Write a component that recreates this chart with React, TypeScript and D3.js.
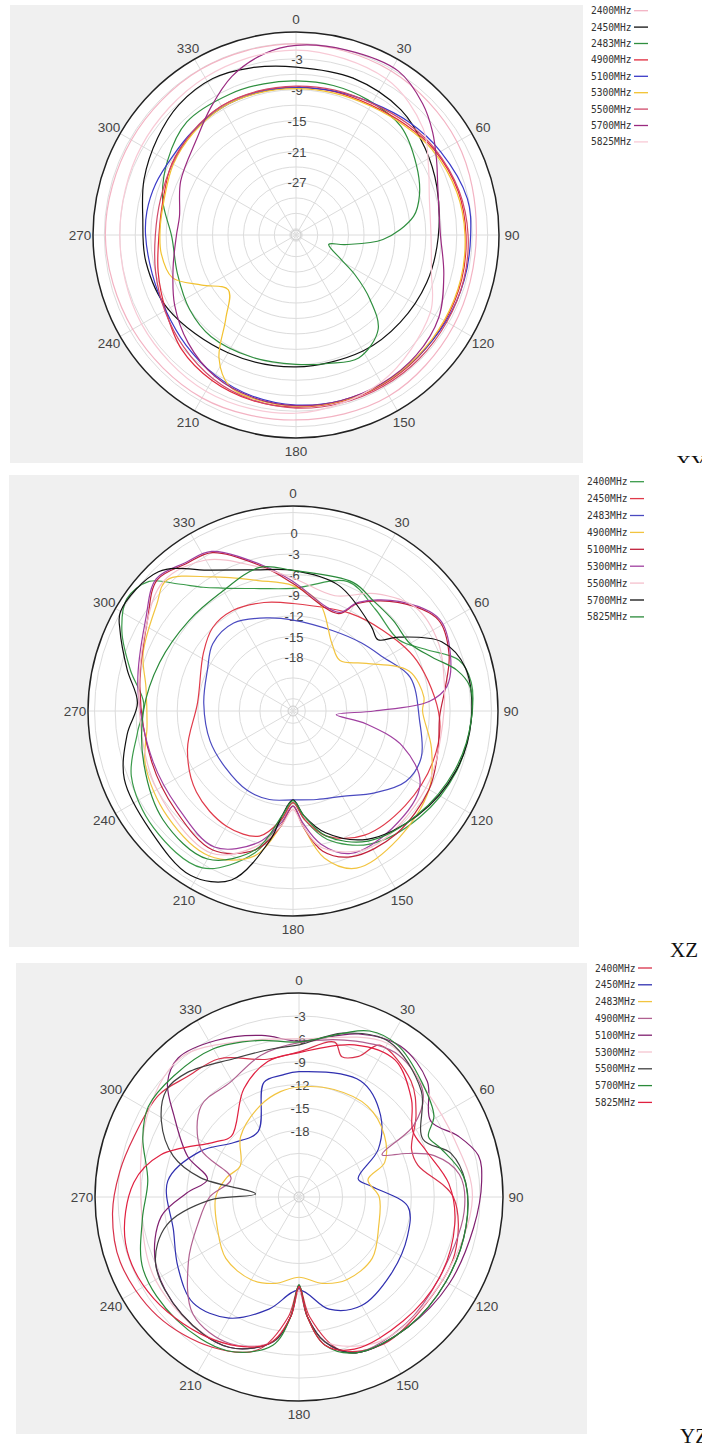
import React from 'react';
import * as d3 from 'd3';

type Pt = [number, number]; // [angle deg, gain dB]

const FREQS = ['2400MHz', '2450MHz', '2483MHz', '4900MHz', '5100MHz', '5300MHz', '5500MHz', '5700MHz', '5825MHz'];
const ANGLE_TICKS = [0, 30, 60, 90, 120, 150, 180, 210, 240, 270, 300, 330];
const XY_TICKS = [-3, -9, -15, -21, -27];
const XZ_TICKS = [0, -3, -6, -9, -12, -15, -18];
const YZ_TICKS = [-3, -6, -9, -12, -15, -18];

// ---------- XY plane ----------
const xy2400: Pt[] = [[0,-0.1],[30,-0.4],[60,-1.1],[90,-2.2],[120,-1.9],[150,-1.1],[180,-1.3],[210,-0.7],[240,-0.6],[270,-0.2],[300,-0.3],[330,-0.1]];
const xy2450: Pt[] = [[0,-4.6],[20,-4.8],[40,-5.5],[56,-7.0],[71,-8.3],[91,-9.6],[110,-10.2],[130,-10.8],[150,-11.2],[180,-11.6],[210,-10.8],[240,-8.5],[260,-7.6],[276,-7.3],[290,-5.8],[305,-4.4],[318,-3.2],[332,-2.8],[345,-3.6]];
const xy2483: Pt[] = [[0,-7.3],[14,-7.3],[28,-7.5],[44,-7.9],[60,-10.2],[72,-12],[81,-14.1],[93,-20.3],[101,-27.5],[106,-30.6],[118,-27.5],[124,-23.4],[131,-18.2],[139,-12.9],[153,-10.4],[166,-11.5],[180,-12.1],[200,-12],[220,-11.5],[235,-12],[252,-13],[269,-13.1],[285,-10.4],[300,-8.4],[316,-6.7],[335,-7],[348,-7.2]];
const xy4900: Pt[] = [[0,-8.5],[15,-8.4],[30,-8.1],[45,-7.0],[58,-5.7],[75,-4.6],[90,-4.2],[105,-3.9],[120,-3.8],[135,-3.7],[150,-3.6],[165,-3.7],[180,-3.8],[195,-4.0],[210,-4.6],[225,-5.8],[240,-8],[255,-9.5],[270,-10.6],[285,-10.5],[300,-9.4],[315,-8.9],[330,-8.3],[345,-8.4]];
const xy5100: Pt[] = [[0,-8.6],[15,-8.3],[30,-7.6],[45,-6.2],[60,-4.8],[78,-3.2],[90,-3.3],[105,-3.4],[120,-3.6],[135,-3.8],[150,-3.8],[165,-3.9],[180,-4.2],[195,-4.8],[210,-5.8],[225,-7.0],[240,-8.0],[255,-8.3],[270,-8.0],[279,-7.9],[290,-8.2],[303,-8.8],[315,-8.8],[330,-8.6],[345,-8.6]];
const xy5300: Pt[] = [[0,-8.8],[15,-8.7],[30,-8.3],[45,-7.3],[58,-6.0],[75,-4.9],[90,-4.4],[105,-4.1],[120,-4.0],[135,-3.9],[150,-3.8],[165,-3.8],[180,-4.0],[195,-4.4],[204,-5.2],[212,-9],[220,-16],[231,-20.3],[242,-16.5],[251,-11.8],[262,-10.8],[272,-10.8],[285,-10.7],[300,-9.7],[315,-9.1],[330,-8.6],[345,-8.7]];
const xy5500: Pt[] = [[0,-8.3],[15,-8.1],[30,-7.7],[45,-6.6],[58,-5.5],[75,-4.4],[90,-3.8],[105,-3.5],[120,-3.4],[135,-3.3],[150,-3.3],[165,-3.4],[180,-3.6],[195,-4.1],[210,-5.0],[225,-6.4],[240,-7.8],[255,-9.0],[270,-9.9],[285,-10.0],[300,-9.5],[315,-8.8],[330,-8.3],[345,-8.3]];
const xy5700: Pt[] = [[0,-0.4],[15,0],[32,0.3],[44,-1.8],[53,-4],[62,-6.3],[71,-8.1],[89,-9.2],[105,-7.5],[120,-5.2],[135,-4.2],[150,-3.9],[165,-3.9],[180,-4.1],[195,-4.6],[210,-5.6],[225,-7.6],[240,-10],[255,-12.5],[270,-14],[279,-14.3],[295,-12.5],[314,-10.4],[326,-7.5],[338,-4],[350,-1.5]];
const xy5825: Pt[] = [[0,-1.3],[30,-2.2],[50,-5],[62,-8.1],[75,-10.4],[90,-11],[105,-10],[120,-7.1],[150,-4.2],[180,-2.6],[210,-2.2],[240,-2.6],[270,-3],[300,-2.6],[330,-1.9]];

// ---------- XZ plane ----------
const xz2400: Pt[] = [[0,-8.0],[23,-5.4],[39,-6.8],[56,-7.3],[65,-4.6],[73,-0.6],[81,0.4],[93,0.1],[110,-0.5],[130,-1.8],[150,-3.5],[165,-6.5],[174,-10],[180,-12.5],[186,-10],[195,-4.5],[210,0.5],[230,0.6],[248,-0.5],[262,-3],[273,-4.1],[284,-1.5],[295,1.6],[304,3.3],[312,2.3],[318,-1.0],[324,-3.6],[330,-5.2],[345,-7.4]];
const xz2450: Pt[] = [[0,-10.2],[30,-9.4],[48,-8.3],[68,-6.4],[93,-4.5],[110,-4.2],[130,-4.5],[150,-5],[165,-7],[174,-10],[180,-12.5],[186,-10],[195,-7],[210,-6.5],[230,-7.5],[250,-9.5],[275,-11.9],[303,-10.3],[316,-9.0],[329,-8.8],[345,-9.5]];
const xz2483: Pt[] = [[0,-12.6],[26,-12.8],[45,-11.8],[59,-10.6],[74,-8.1],[94,-7.4],[110,-6.0],[122,-6.5],[135,-9],[150,-11.5],[165,-12.5],[180,-12.9],[195,-12.5],[210,-12.5],[230,-13],[250,-13],[275,-12.8],[296,-12.0],[310,-10.6],[326,-10.4],[345,-11.8]];
const xz4900: Pt[] = [[0,-7.6],[14,-9.7],[30,-14.5],[43,-15.8],[57,-13.1],[71,-8.0],[84,-6.7],[90,-7],[105,-5],[120,-3],[140,-1.8],[158,-1.2],[168,-4],[175,-9],[180,-12],[186,-9],[195,-4],[210,-1.5],[230,-2],[250,-3],[264,-4.5],[279,-4.2],[291,-2.5],[308,-0.7],[316,0.6],[329,-3.1],[345,-6.2]];
const xz5100: Pt[] = [[0,-7.3],[25,-10.2],[31,-7.6],[44,-3.9],[58,-0.9],[70,-1.7],[81,-3.4],[92,-4.5],[105,-4],[120,-3],[140,-2.5],[158,-3],[168,-5],[175,-9],[180,-12],[186,-9],[195,-5],[210,-2.5],[230,-3.5],[250,-4],[279,-3.3],[302,-0.9],[314,1.6],[324,0.6],[333,0],[349,-4.6]];
const xz5300: Pt[] = [[0,-7.0],[25,-10.0],[31,-7.4],[44,-3.7],[58,-0.7],[70,-1.5],[81,-3.2],[86,-6],[90,-14],[95,-19.5],[100,-15],[108,-9],[120,-4.5],[140,-3.5],[158,-3.5],[168,-6],[175,-9.5],[180,-12],[186,-9.5],[195,-6],[210,-3],[230,-4],[250,-4.2],[279,-3.0],[302,-0.6],[314,1.8],[324,0.8],[333,0.2],[349,-4.4]];
const xz5500: Pt[] = [[0,-6.5],[20,-8],[35,-5],[50,-2.5],[65,-2.5],[80,-3.5],[95,-4],[120,-3.5],[150,-3],[168,-5.5],[175,-9],[180,-11.5],[186,-9],[195,-5.5],[210,-2],[240,-3],[270,-3.5],[300,-1.2],[315,0.8],[330,-0.5],[345,-4]];
const xz5700: Pt[] = [[0,-5.4],[20,-6.4],[43,-9.1],[50,-9.7],[55,-7.1],[65,-2.0],[76,0],[93,0.1],[110,-0.6],[130,-2.2],[150,-4.3],[165,-7.5],[174,-10.5],[180,-12.9],[186,-10.5],[190,-6.8],[200,0.3],[212,2.3],[230,1.2],[248,0.6],[262,-1.5],[273,-3.2],[284,-1],[295,1.9],[300,3.1],[316,2.3],[330,-2.2],[345,-4.6]];
const xz5825: Pt[] = [[0,-5.4],[25,-5.2],[36,-6.0],[48,-6.2],[60,-6.2],[69,-4.1],[76,-1.3],[82,0.1],[93,0.1],[110,-0.8],[130,-2.3],[150,-4],[165,-7],[174,-10.5],[180,-12.8],[186,-10.5],[195,-5],[210,-1],[230,-1.2],[250,-2.8],[270,-4.1],[290,-5.2],[311,-5.8],[328,-5.7],[347,-4.4]];

// ---------- YZ plane ----------
const yz2400: Pt[] = [[0,-7.7],[13,-5.9],[17,-7.5],[23,-6.7],[28,-4.2],[44,-5.6],[55,-8],[67,-10.7],[75,-10.6],[90,-6.5],[110,-5],[130,-5],[150,-4.5],[165,-6],[175,-11],[180,-15],[185,-11],[195,-6],[210,-4],[230,-2.5],[250,-1.8],[265,-2.2],[278,-3],[290,-3.7],[306,-4],[317,-5.2],[330,-5.8],[347,-8.2]];
const yz2450: Pt[] = [[0,-10.3],[28,-9.5],[45,-11.6],[59,-14.6],[73,-18.6],[82,-17],[95,-12.4],[110,-11.6],[130,-11],[150,-10.3],[165,-11.5],[180,-14.5],[195,-11.5],[210,-8.4],[225,-7.1],[240,-8.4],[255,-9.7],[277,-9.4],[295,-12.5],[310,-15.6],[328,-16.6],[343,-11],[352,-10.6]];
const yz2483: Pt[] = [[0,-12.3],[18,-11.9],[37,-11.8],[54,-12.9],[68,-14.6],[76,-17.4],[90,-16.2],[110,-15.6],[130,-14.2],[150,-14.2],[165,-15],[180,-16.2],[195,-15],[210,-14.2],[230,-14.2],[250,-15.3],[270,-15.8],[285,-16.9],[298,-18],[316,-15.7],[337,-13.7],[350,-12.7]];
const yz4900: Pt[] = [[0,-6.5],[20,-5],[35,-4.0],[50,-5.5],[58,-9],[63,-14.5],[68,-11.5],[73,-8.2],[82,-5.5],[95,-5],[120,-5.5],[140,-5],[160,-5],[170,-7.5],[176,-11],[180,-14.5],[184,-11],[190,-7.5],[205,-5.5],[222,-6],[240,-10],[255,-13],[270,-15],[285,-17.5],[296,-12.4],[313,-9.2],[329,-9.2],[345,-7.5]];
const yz5100: Pt[] = [[0,-6.3],[20,-4],[34,-2.9],[48,-4.1],[60,-6.8],[69,-4.4],[77,-2.6],[85,-2.7],[100,-3.5],[120,-4],[140,-4.5],[160,-5],[170,-7.5],[176,-11],[180,-14.8],[184,-11],[190,-7.5],[205,-5],[225,-5],[245,-6],[262,-8.5],[272,-12],[281,-14.5],[290,-11.2],[303,-7.2],[311,-3.9],[319,-2.6],[332,-3.5],[347,-5]];
const yz5300: Pt[] = [[0,-6],[30,-3.5],[50,-5],[70,-5],[90,-4],[120,-5],[150,-5],[170,-7.5],[176,-11],[180,-14.5],[184,-11],[190,-7.5],[210,-5],[240,-5],[270,-6],[300,-4],[320,-2.8],[340,-5]];
const yz5500: Pt[] = [[0,-6.8],[15,-4.5],[30,-3.2],[49,-5.5],[65,-8.8],[74,-6],[85,-4.8],[100,-4.5],[120,-4.5],[140,-4.5],[160,-5],[170,-7.5],[176,-11],[180,-15.2],[184,-11],[190,-7.5],[205,-5],[225,-5],[245,-6],[258,-9],[268,-15],[274,-21],[281,-13.6],[288,-9.4],[299,-6.1],[309,-4.4],[318,-4.8],[335,-6.7],[350,-7]];
const yz5700: Pt[] = [[0,-6.4],[23,-3.1],[33,-3],[47,-4.7],[59,-6.1],[65,-8],[71,-7.1],[83,-5],[100,-4.5],[120,-4.5],[140,-4.5],[160,-5],[170,-7],[176,-11],[180,-15.2],[184,-11],[190,-7],[205,-4.5],[225,-4],[245,-4.2],[262,-6],[276,-6.8],[291,-4.8],[301,-3.7],[314,-3.9],[330,-4.3],[345,-5.5]];
const yz5825: Pt[] = [[0,-7.8],[20,-5.5],[35,-4.8],[49,-7.2],[60,-9.5],[70,-9.0],[85,-7],[100,-6],[120,-5.5],[140,-5.5],[160,-5.5],[170,-7],[176,-11],[180,-15],[184,-11],[192,-7],[210,-5],[235,-3.5],[255,-3.2],[275,-5],[287,-7.8],[303,-13.5],[312,-14.8],[333,-10.8],[347,-8.5]];

const XY_COLORS = ['#f3b3c3', '#111111', '#2f8f3f', '#e02a3c', '#3a3ac8', '#f2c230', '#d04a6a', '#9a2a80', '#f8cad6'];
const XZ_COLORS = ['#3a9a4a', '#e03a4a', '#4a4ac0', '#f2c440', '#c0203a', '#a040a0', '#f4c0cc', '#111111', '#2a8a3a'];
const YZ_COLORS = ['#d8304a', '#3030b0', '#f2c440', '#b06090', '#802070', '#f4c4d0', '#404040', '#2a8a3a', '#e02040'];

interface PanelProps {
  cx: number; cy: number; outerR: number; dbMin: number; dbMax: number;
  rings: number[]; labels: number[]; series: Pt[][]; colors: string[];
  bg: [number, number, number, number]; legendX: number; legendY: number; legendStep: number;
}

function PolarPanel(p: PanelProps) {
  const r = d3.scaleLinear().domain([p.dbMin, p.dbMax]).range([0, p.outerR]);
  const line = d3.lineRadial<Pt>()
    .angle(d => (d[0] * Math.PI) / 180)
    .radius(d => r(Math.max(p.dbMin, d[1])))
    .curve(d3.curveCatmullRomClosed.alpha(0.5));
  const rad = (a: number) => (a * Math.PI) / 180;
  return (
    <g>
      <rect x={p.bg[0]} y={p.bg[1]} width={p.bg[2] - p.bg[0]} height={p.bg[3] - p.bg[1]} fill="#f0f0f0" />
      <g transform={`translate(${p.cx},${p.cy})`}>
        <circle r={p.outerR} fill="#ffffff" />
        {p.rings.map(v => (
          <circle key={v} r={r(v)} fill="none" stroke="#dcdcdc" strokeWidth={1} />
        ))}
        {ANGLE_TICKS.map(a => (
          <line key={a} x1={0} y1={0} x2={p.outerR * Math.sin(rad(a))} y2={-p.outerR * Math.cos(rad(a))} stroke="#dcdcdc" strokeWidth={1} />
        ))}
        <circle r={5} fill="none" stroke="#cccccc" />
        {p.labels.map(v => (
          <text key={v} x={1} y={-r(v) + 5} textAnchor="middle" fontFamily="Liberation Sans, Arial, sans-serif" fontSize={13} fill="#444">{v}</text>
        ))}
        {p.series.map((s, i) => (
          <path key={i} d={line(s) || ''} fill="none" stroke={p.colors[i]} strokeWidth={1.2} />
        ))}
        <circle r={p.outerR} fill="none" stroke="#222" strokeWidth={1.5} />
        {ANGLE_TICKS.map(a => (
          <text key={a} x={(p.outerR + 13) * Math.sin(rad(a))} y={-(p.outerR + 13) * Math.cos(rad(a)) + 5}
            textAnchor="middle" fontFamily="Liberation Sans, Arial, sans-serif" fontSize={13.5} fill="#444">{a}</text>
        ))}
      </g>
      {FREQS.map((f, i) => (
        <g key={f}>
          <text x={p.legendX} y={p.legendY + i * p.legendStep + 3.5} fontFamily="DejaVu Sans Mono, Liberation Mono, monospace" fontSize={9.6} fill="#333">{f}</text>
          <line x1={p.legendX + 43} x2={p.legendX + 57} y1={p.legendY + i * p.legendStep} y2={p.legendY + i * p.legendStep} stroke={p.colors[i]} strokeWidth={1.3} />
        </g>
      ))}
    </g>
  );
}

const XY_RINGS = [0, -3, -6, -9, -12, -15, -18, -21, -24, -27, -30, -33, -36];
const XZ_RINGS = [3, 0, -3, -6, -9, -12, -15, -18, -21, -24];
const YZ_RINGS = [-3, -6, -9, -12, -15, -18, -21, -24];

export default function App() {
  return (
    <svg width={702} height={1446} style={{ position: 'absolute', left: 0, top: 0, background: '#fff' }}>
      <PolarPanel cx={296} cy={235} outerR={203} dbMin={-37.2} dbMax={2.2} rings={XY_RINGS} labels={XY_TICKS}
        series={[xy2400, xy2450, xy2483, xy4900, xy5100, xy5300, xy5500, xy5700, xy5825]} colors={XY_COLORS}
        bg={[10, 5, 583, 463]} legendX={591} legendY={10.7} legendStep={16.4} />
      <text x={676} y={470} fontFamily="Liberation Serif, Times New Roman, serif" fontSize={21} fill="#111">XY</text>
      <rect x={0} y={463} width={702} height={12} fill="#fff" />
      <PolarPanel cx={293} cy={711} outerR={205} dbMin={-25.8} dbMax={3.95} rings={XZ_RINGS} labels={XZ_TICKS}
        series={[xz2400, xz2450, xz2483, xz4900, xz5100, xz5300, xz5500, xz5700, xz5825]} colors={XZ_COLORS}
        bg={[9, 475, 579, 947]} legendX={587} legendY={481.7} legendStep={16.9} />
      <text x={670} y={957} fontFamily="Liberation Serif, Times New Roman, serif" fontSize={21} fill="#111">XZ</text>
      <PolarPanel cx={299} cy={1197} outerR={204} dbMin={-26.7} dbMax={0} rings={YZ_RINGS} labels={YZ_TICKS}
        series={[yz2400, yz2450, yz2483, yz4900, yz5100, yz5300, yz5500, yz5700, yz5825]} colors={YZ_COLORS}
        bg={[16, 963, 587, 1434]} legendX={595} legendY={968} legendStep={16.8} />
      <text x={680} y={1443} fontFamily="Liberation Serif, Times New Roman, serif" fontSize={21} fill="#111">YZ</text>
    </svg>
  );
}
